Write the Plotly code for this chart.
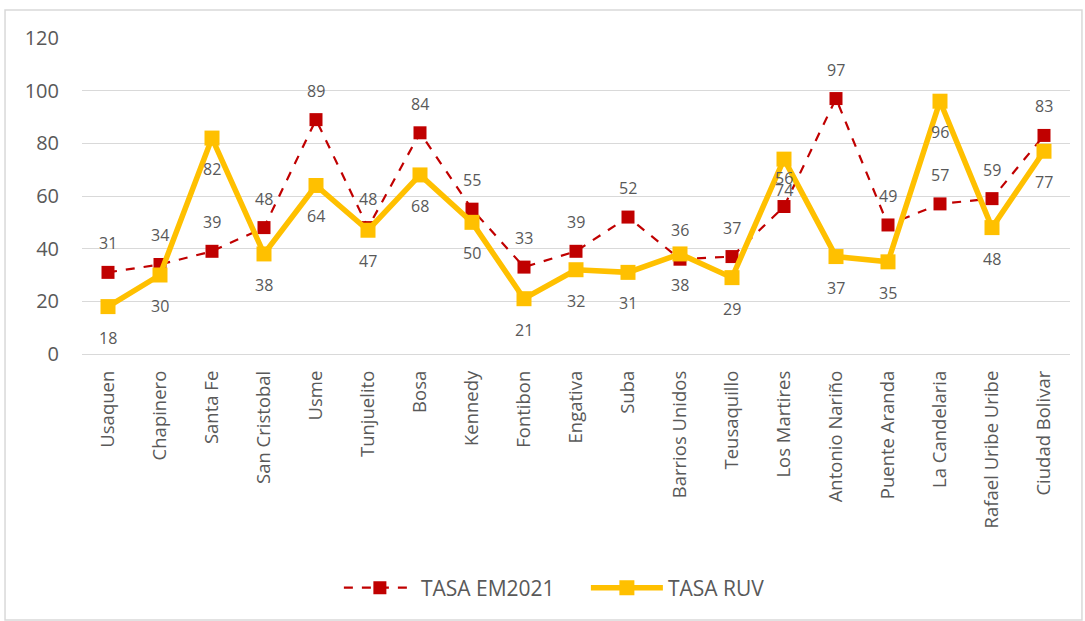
import plotly.graph_objects as go

categories = ["Usaquen", "Chapinero", "Santa Fe", "San Cristobal", "Usme", "Tunjuelito",
              "Bosa", "Kennedy", "Fontibon", "Engativa", "Suba", "Barrios Unidos",
              "Teusaquillo", "Los Martires", "Antonio Nariño", "Puente Aranda",
              "La Candelaria", "Rafael Uribe Uribe", "Ciudad Bolivar"]
tasa_em2021 = [31, 34, 39, 48, 89, 48, 84, 55, 33, 39, 52, 36, 37, 56, 97, 49, 57, 59, 83]
tasa_ruv = [18, 30, 82, 38, 64, 47, 68, 50, 21, 32, 31, 38, 29, 74, 37, 35, 96, 48, 77]
y_ticks = [0, 20, 40, 60, 80, 100, 120]

RED = "#C00000"
YEL = "#FFC000"
TXT = "#595959"
FONT = "Open Sans"

fig = go.Figure()
fig.add_trace(go.Scatter(
    x=categories, y=tasa_em2021, name="TASA EM2021", mode="lines+markers",
    line=dict(color=RED, width=2.2, dash="dash"),
    marker=dict(symbol="square", size=13, color=RED),
))
fig.add_trace(go.Scatter(
    x=categories, y=tasa_ruv, name="TASA RUV", mode="lines+markers",
    line=dict(color=YEL, width=5.5),
    marker=dict(symbol="square", size=15, color=YEL),
))

for c, v in zip(categories, tasa_em2021):
    fig.add_annotation(x=c, y=v, text=str(v), showarrow=False, yshift=29,
                       font=dict(family=FONT, size=16, color=TXT))
for c, v in zip(categories, tasa_ruv):
    fig.add_annotation(x=c, y=v, text=str(v), showarrow=False, yshift=-31,
                       font=dict(family=FONT, size=16, color=TXT))

# outer chart border
fig.add_shape(type="rect", xref="paper", yref="paper",
              x0=-0.0779, x1=1.0121, y0=-0.842, y1=1.0886,
              line=dict(color="#D9D9D9", width=1.5), fillcolor="rgba(0,0,0,0)")

fig.update_layout(
    width=1085, height=621,
    margin=dict(l=82, r=15, t=38, b=267),
    paper_bgcolor="white", plot_bgcolor="white",
    font=dict(family=FONT, color=TXT),
    showlegend=True,
    legend=dict(orientation="h", x=0.26, xanchor="left", y=-0.7405, yanchor="middle",
                font=dict(size=21, color=TXT, family=FONT), itemwidth=72,
                entrywidth=160, entrywidthmode="pixels",
                traceorder="normal"),
    xaxis=dict(range=[-0.5, 18.5], tickangle=-90, showgrid=False, showline=False,
               zeroline=False, tickfont=dict(size=18.5, color=TXT, family=FONT),
               ticklabelstandoff=12, ticks=""),
    yaxis=dict(range=[0, 120], tickvals=y_ticks, showgrid=True, gridcolor="#D9D9D9",
               gridwidth=1.3, zeroline=True, zerolinecolor="#D9D9D9", zerolinewidth=1.3,
               showline=False, tickfont=dict(size=20, color=TXT, family=FONT),
               ticklabelstandoff=22, ticks=""),
)

fig.write_html("out.html", config={"displayModeBar": False},
               post_script="document.body.style.margin='0';")
